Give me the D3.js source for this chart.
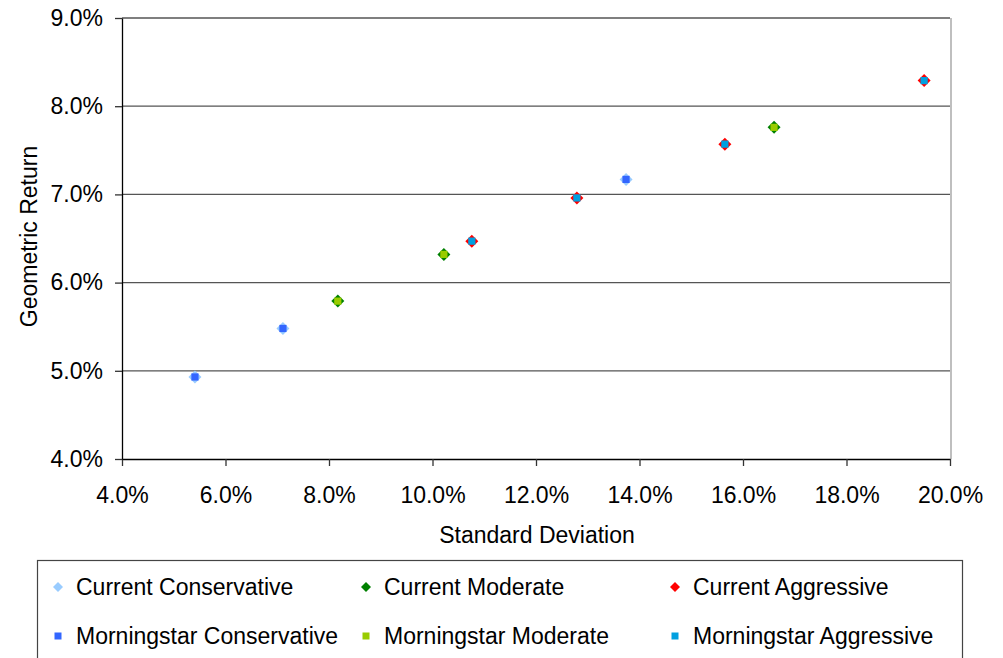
<!DOCTYPE html>
<html><head><meta charset="utf-8">
<script src="https://cdn.jsdelivr.net/npm/d3@7"></script>
<style>body{margin:0;background:#fff;}svg{display:block;font-family:"Liberation Sans",Arial,sans-serif;}</style>
</head><body><svg id="c" width="1003" height="658"></svg>
<script>
const xTicks = [0.04,0.06,0.08,0.10,0.12,0.14,0.16,0.18,0.20];
const yTicks = [0.04,0.05,0.06,0.07,0.08,0.09];
const conservative = [[0.0541,0.0493],[0.0711,0.0548],[0.1374,0.0717]];
const moderate = [[0.0817,0.0579],[0.1022,0.0632],[0.1660,0.0776]];
const aggressive = [[0.1076,0.0647],[0.1279,0.0696],[0.1565,0.0757],[0.1950,0.0829]];
const seriesNames = ["Current Conservative","Current Moderate","Current Aggressive","Morningstar Conservative","Morningstar Moderate","Morningstar Aggressive"];
const seriesColors = ["#99ccff","#008000","#ff0000","#3366ff","#99cc00","#00a0e0"];

const series = [
  {name:seriesNames[0],data:conservative,color:seriesColors[0],shape:"diamond"},
  {name:seriesNames[1],data:moderate,color:seriesColors[1],shape:"diamond"},
  {name:seriesNames[2],data:aggressive,color:seriesColors[2],shape:"diamond"},
  {name:seriesNames[3],data:conservative,color:seriesColors[3],shape:"square"},
  {name:seriesNames[4],data:moderate,color:seriesColors[4],shape:"square"},
  {name:seriesNames[5],data:aggressive,color:seriesColors[5],shape:"square"}
];

const svg = d3.select("#c");
const L=122,R=950,T=18,B=459;
const x = d3.scaleLinear().domain([0.04,0.20]).range([L,R]);
const y = d3.scaleLinear().domain([0.04,0.09]).range([B,T]);
const fmt = d3.format(".1%");

svg.append("g").selectAll("line").data(yTicks.filter(d=>d>0.04)).join("line")
  .attr("x1",L).attr("x2",R).attr("y1",d=>y(d)).attr("y2",d=>y(d))
  .attr("stroke","#555").attr("stroke-width",1.3);
svg.append("line").attr("x1",R+1).attr("x2",R+1).attr("y1",T).attr("y2",B).attr("stroke","#aaa").attr("stroke-width",1.5);

const xAxis = svg.append("g").attr("transform",`translate(0,${B})`)
  .call(d3.axisBottom(x).tickValues(xTicks).tickFormat(fmt).tickSize(7).tickSizeOuter(0));
const yAxis = svg.append("g").attr("transform",`translate(${L},0)`)
  .call(d3.axisLeft(y).tickValues(yTicks).tickFormat(fmt).tickSize(7).tickSizeOuter(0));
[xAxis,yAxis].forEach(g=>{
  g.attr("font-size",23).attr("font-family","Liberation Sans, Arial, sans-serif");
  g.select(".domain").attr("stroke","#000").attr("stroke-width",1.3);
  g.selectAll(".tick line").attr("stroke","#333").attr("stroke-width",1.3);
  g.selectAll("text").attr("fill","#000");
});
xAxis.selectAll("text").attr("y",28);
yAxis.selectAll("text").attr("x",-19);

svg.append("text").attr("x",(L+R)/2+1).attr("y",543).attr("text-anchor","middle")
  .attr("font-size",23).text("Standard Deviation");
svg.append("text").attr("transform",`translate(37,${(T+B)/2-2}) rotate(-90)`).attr("text-anchor","middle")
  .attr("font-size",23).text("Geometric Return");

function marker(g,shape,color,size){
  if(shape==="diamond"){
    g.append("path").attr("d",`M0,${-size}L${size},0L0,${size}L${-size},0Z`).attr("fill",color);
  } else {
    g.append("rect").attr("x",-size).attr("y",-size).attr("width",2*size).attr("height",2*size).attr("fill",color);
  }
}
series.forEach(s=>{
  svg.append("g").selectAll("g").data(s.data).join("g")
    .attr("transform",d=>`translate(${x(d[0])},${y(d[1])})`)
    .each(function(){ marker(d3.select(this),s.shape,s.color,s.shape==="diamond"?6.5:3.6); });
});

svg.append("rect").attr("x",37.5).attr("y",560.5).attr("width",925).attr("height",110)
  .attr("fill","none").attr("stroke","#444").attr("stroke-width",1.2);
const colX=[58,366,675], rowY=[587,636];
series.forEach((s,i)=>{
  const cx=colX[i%3], cy=rowY[Math.floor(i/3)];
  const g=svg.append("g").attr("transform",`translate(${cx},${cy})`);
  marker(g,s.shape,s.color,s.shape==="diamond"?5:3.5);
  svg.append("text").attr("x",cx+18).attr("y",cy+8).attr("font-size",23).text(s.name);
});
</script></body></html>
